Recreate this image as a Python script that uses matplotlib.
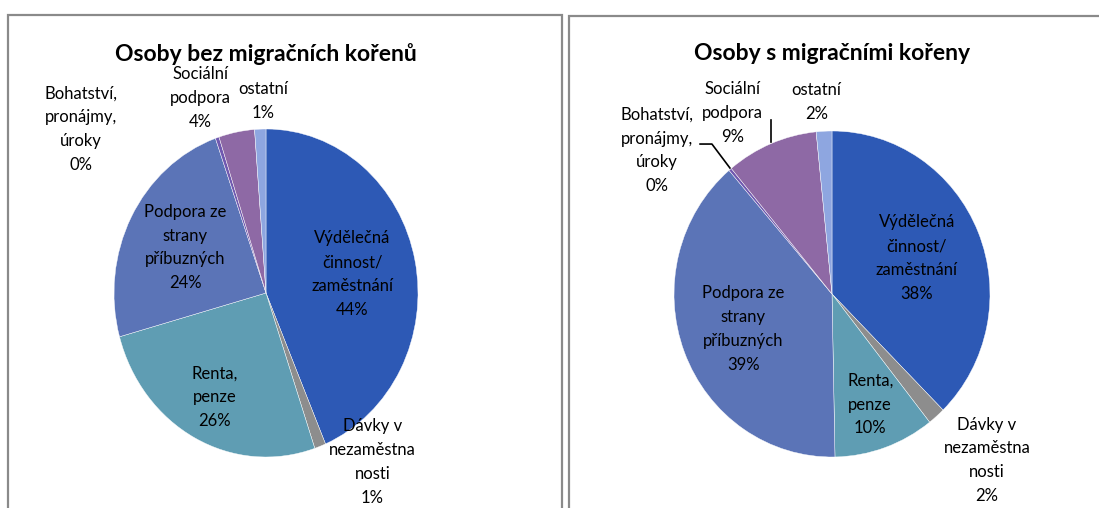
import matplotlib.pyplot as plt
from matplotlib.patches import Rectangle
import numpy as np

plt.rcParams['font.family'] = ['Lato', 'DejaVu Sans']

categories = ["Výdělečná\nčinnost/\nzaměstnání", "Dávky v\nnezaměstna\nnosti", "Renta,\npenze",
              "Podpora ze\nstrany\npříbuzných", "Bohatství,\npronájmy,\núroky", "Sociální\npodpora", "ostatní"]
values_bez = [43.6, 1.2, 25.9, 23.9, 0.4, 3.8, 1.2]
values_s = [37.6, 1.8, 10.3, 39.0, 0.3, 9.4, 1.6]
titles = ["Osoby bez migračních kořenů", "Osoby s migračními kořeny"]
colors = ["#2D59B5", "#8D8D8D", "#5F9DB3", "#5B74B7", "#7059B0", "#8E69A5", "#8EA6E0"]

W, H = 1099, 508
fig = plt.figure(figsize=(W / 100, H / 100), dpi=100)

# frames around the two charts
fig.add_artist(Rectangle((8 / W, -0.1), 554 / W, 1.1 - 15 / H, transform=fig.transFigure,
                         fill=False, edgecolor="#8a8a8a", linewidth=1.6))
fig.add_artist(Rectangle((569 / W, -0.1), 0.6, 1.1 - 16 / H, transform=fig.transFigure,
                         fill=False, edgecolor="#8a8a8a", linewidth=1.6))

# pie geometry in pixels: centre x, centre y (from top), radius x, radius y
geom = [(266, 293, 152, 164), (832, 294, 158, 163)]
inside = {0: 0.58, 2: 0.72, 3: 0.6}
outside = [
    {1: (0.70, -1.03), 4: (-1.22, 1.0), 5: (-0.43, 1.19), 6: (-0.02, 1.17)},
    {1: (0.98, -1.02), 4: (-1.11, 0.88), 5: (-0.63, 1.11), 6: (-0.10, 1.18)},
]
leaders = [
    {},
    {4: [(-0.835, 0.92), (-0.76, 0.92), (-0.646, 0.773)], 5: [(-0.386, 1.067), (-0.386, 0.93)]},
]

for k, vals in enumerate([values_bez, values_s]):
    cx, cy, rx, ry = geom[k]
    ax = fig.add_axes([(cx - rx) / W, (H - cy - ry) / H, 2 * rx / W, 2 * ry / H])
    wedges, _ = ax.pie(vals, colors=colors, startangle=90, counterclock=False, radius=1,
                       wedgeprops=dict(edgecolor="white", linewidth=0.3))
    ax.set_aspect('auto')
    ax.set_xlim(-1, 1)
    ax.set_ylim(-1, 1)
    ax.axis('off')
    for i, w in enumerate(wedges):
        txt = f"{categories[i]}\n{round(vals[i])}%"
        if i in inside:
            a = np.deg2rad((w.theta1 + w.theta2) / 2)
            x, y = inside[i] * np.cos(a), inside[i] * np.sin(a)
        else:
            x, y = outside[k][i]
        ax.text(x, y, txt, ha='center', va='center', fontsize=12, linespacing=1.6,
                color="black", clip_on=False)
    for pts in leaders[k].values():
        xs, ys = zip(*pts)
        ax.plot(xs, ys, color="black", linewidth=1.2, clip_on=False)
    fig.text(cx / W, 1 - 54 / H, titles[k], ha='center', va='center', fontsize=16.5,
             fontweight='bold')

fig.savefig("out.png", dpi=100)
